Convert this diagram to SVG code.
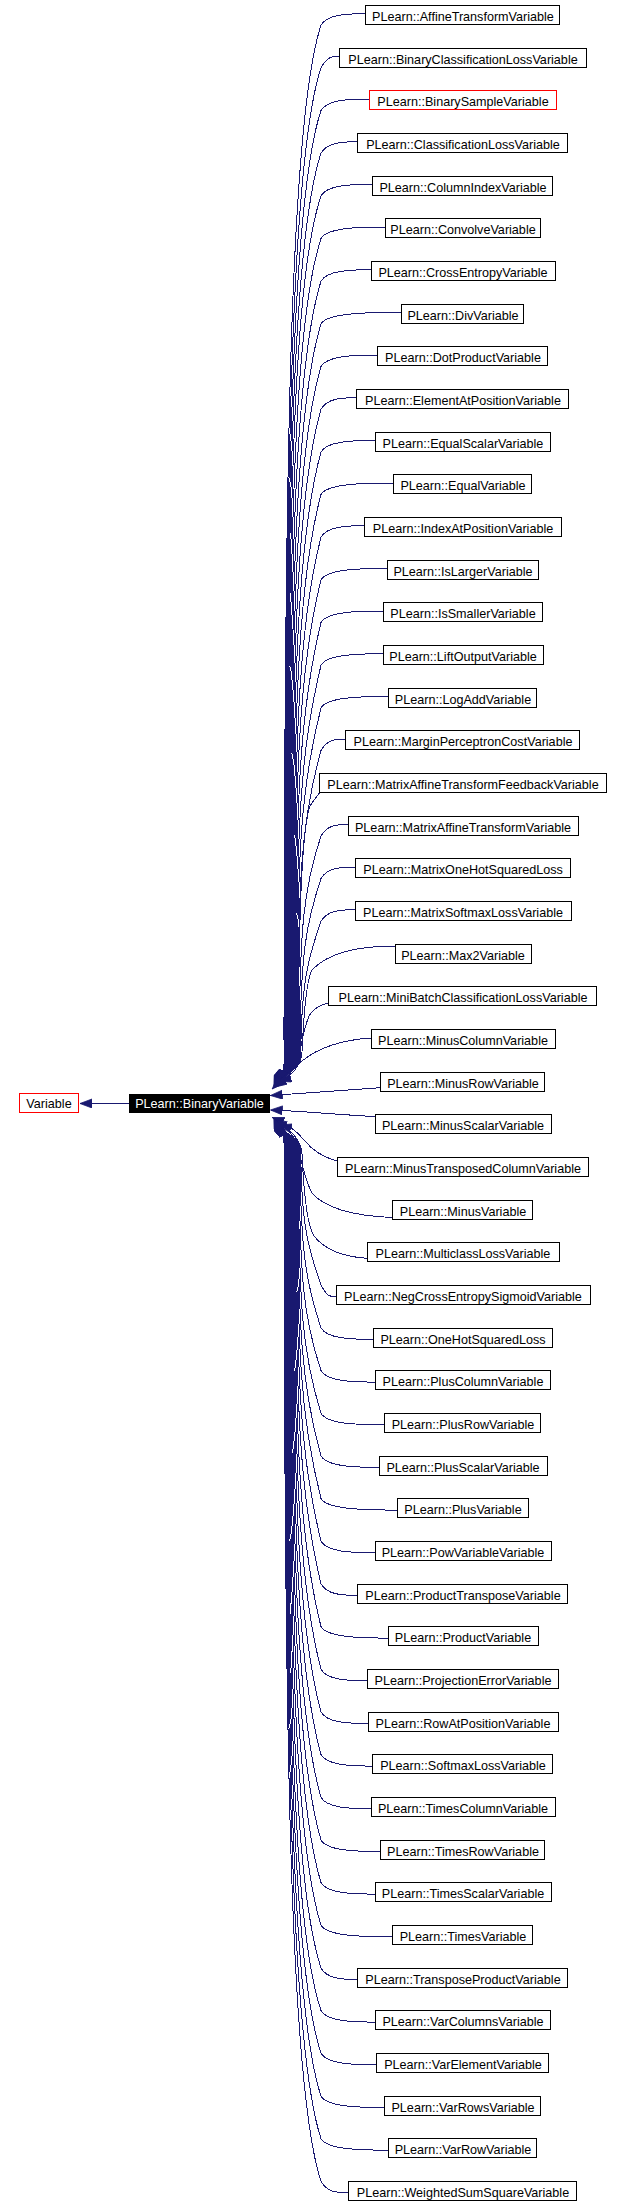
<svg xmlns="http://www.w3.org/2000/svg" width="622" height="2206" viewBox="0 0 622 2206">
<defs>
<marker id="a" markerUnits="userSpaceOnUse" markerWidth="13" markerHeight="10" refX="12" refY="4.5" orient="auto">
<path d="M0,0 L12,4.5 L0,9 z" fill="#191970" stroke="#191970" stroke-width="0.8"/>
</marker>
<style>
.n rect{fill:#fff;stroke:#000;stroke-width:1}
.n.r rect{stroke:#f00}
.p rect{fill:#000;stroke:#000;stroke-width:1}
text{font-family:"Liberation Sans",Arial,Helvetica,sans-serif;font-size:12.6px;text-anchor:middle;fill:#000}
.p text{fill:#fff}
#edges path{fill:none;stroke:#191970;stroke-width:1;marker-end:url(#a);shape-rendering:crispEdges}
</style>
</defs>
<rect width="622" height="2206" fill="#fff"/>
<g id="edges">
<path d="M129,1103.5 L80,1103.5"/>
<path d="M365.3,13.7 C345.4,13.7 327,14.7 321,25.2 C291,115.2 284,440.7 284,1064 C284,1076 278,1078 274,1088"/>
<path d="M339.3,56.3 C331.1,56.3 327,57.3 321,67.8 C291,157.8 284.8,466.2 284.8,1063.7 C284.8,1075.7 278.25,1077.7 274.25,1087.7"/>
<path d="M369,99 C347.4,99 327,100 321,110.5 C291,200.5 285.6,491.7 285.6,1063.4 C285.6,1075.4 278.5,1077.4 274.5,1087.4"/>
<path d="M357.3,141.7 C341,141.7 327,142.7 321,153.2 C291,243.2 286.4,517.2 286.4,1063.1 C286.4,1075.1 278.75,1077.1 274.75,1087.1"/>
<path d="M372,184.3 C349,184.3 327,185.3 321,195.8 C291.2,285.8 287.2,542.6 287.2,1062.8 C287.2,1074.8 279,1076.8 275,1086.8"/>
<path d="M385.3,227 C356.4,227 327,228 321,238.5 C292,328.5 288,568.1 288,1062.5 C288,1074.5 279.25,1076.5 275.25,1086.5"/>
<path d="M371.3,269.7 C348.7,269.7 327,270.7 321,281.2 C292.8,371.2 288.8,593.6 288.8,1062.2 C288.8,1074.2 279.5,1076.2 275.5,1086.2"/>
<path d="M401.3,312.3 C365.2,312.3 327,313.3 321,323.8 C293.6,413.8 289.6,619 289.6,1061.9 C289.6,1073.9 279.75,1075.9 275.75,1085.9"/>
<path d="M377.3,355 C352,355 327,356 321,366.5 C294.4,456.5 290.4,644.5 290.4,1061.6 C290.4,1073.6 280,1075.6 276,1085.6"/>
<path d="M356.3,397.7 C340.4,397.7 327,398.7 321,409.2 C295.2,499.2 291.2,670 291.2,1061.3 C291.2,1073.3 280.25,1075.3 276.25,1085.3"/>
<path d="M375.3,440.4 C350.9,440.4 327,441.4 321,451.9 C296,541.9 292,695.5 292,1061 C292,1073 280.5,1075 276.5,1085"/>
<path d="M393.3,483 C360.8,483 327,484 321,494.5 C296.8,584.5 292.8,721 292.8,1060.7 C292.8,1072.7 280.75,1074.7 276.75,1084.7"/>
<path d="M364,525.7 C344.6,525.7 327,526.7 321,537.2 C297.6,627.2 293.6,746.5 293.6,1060.4 C293.6,1072.4 281,1074.4 277,1084.4"/>
<path d="M387.3,568.4 C357.5,568.4 327,569.4 321,579.9 C298.4,669.9 294.4,772 294.4,1060.1 C294.4,1072.1 281.25,1074.1 277.25,1084.1"/>
<path d="M383.3,611 C355.3,611 327,612 321,622.5 C299.2,712.5 295.2,797.4 295.2,1059.8 C295.2,1071.8 281.5,1073.8 277.5,1083.8"/>
<path d="M383.3,653.7 C355.3,653.7 327,654.7 321,665.2 C300,753.9 296,822.9 296,1059.5 C296,1071.5 281.75,1073.5 277.75,1083.5"/>
<path d="M388.3,696.4 C358,696.4 327,697.4 321,707.9 C300.8,787.1 296.8,848.4 296.8,1059.2 C296.8,1071.2 282,1073.2 278,1083.2"/>
<path d="M345,739 C334.2,739 327,740 321,750.5 C301.6,819.9 297.6,873.9 297.6,1058.9 C297.6,1070.9 282.25,1072.9 278.25,1082.9"/>
<path d="M319.5,793 C316.5,797 313,801 310,806 C303,825 298.4,900 298.4,1058.6 C298.4,1070.6 282.5,1072.6 278.5,1082.6"/>
<path d="M348.3,824.4 C336,824.4 327,825.4 321,835.9 C304.2,886.3 299.2,924.9 299.2,1058.3 C299.2,1070.3 282.75,1072.3 278.75,1082.3"/>
<path d="M355.3,867 C339.9,867 327,868 321,878.5 C307.5,919 300,950.3 300,1058 C300,1070 283,1072 279,1082"/>
<path d="M355.3,909.7 C339.9,909.7 327,910.7 321,921.2 C310.8,951.8 300.8,975.8 300.8,1057.7 C300.8,1069.7 283.25,1071.7 279.25,1081.7"/>
<path d="M395.3,946 C352,946 326,955 312,970 C306,980 303,1030 302,1052 C301,1066 290,1078 279.5,1081.4"/>
<path d="M328.3,1003 C320,1005 313,1009 309,1016 C303,1030 301,1050 297,1062 C293,1072 284,1081 275,1087"/>
<path d="M371.3,1038 C340,1040 318,1048 302,1061 C292,1070 280,1081 272.2,1089"/>
<path d="M380.3,1087.7 L270.5,1095.5"/>
<path d="M375.7,1116.7 C330,1114 300,1111 270.5,1110"/>
<path d="M337.3,1161 C322,1157 312,1150 304,1140 C296,1130 284,1122 272.2,1117.5"/>
<path d="M392.3,1217.5 C355,1216 326,1209 312,1193 C303,1176 301,1156 297,1144 C293,1134 284,1125 275,1119.5"/>
<path d="M367.3,1258.3 C345,1257 325,1250 314,1236 C306,1224 303,1176 302,1154 C301,1140 290,1128 279.5,1125.1"/>
<path d="M336,1296.8 C329.2,1296.8 327,1295.8 321,1285.3 C310.8,1254.7 300.8,1230.7 300.8,1148.8 C300.8,1136.8 283.25,1134.8 279.25,1124.8"/>
<path d="M373.3,1339.4 C349.8,1339.4 327,1338.4 321,1327.9 C307.5,1287.4 300,1256.1 300,1148.5 C300,1136.5 283,1134.5 279,1124.5"/>
<path d="M375.3,1382.1 C350.9,1382.1 327,1381.1 321,1370.6 C304.2,1320.2 299.2,1281.6 299.2,1148.2 C299.2,1136.2 282.75,1134.2 278.75,1124.2"/>
<path d="M384.3,1424.8 C355.8,1424.8 327,1423.8 321,1413.3 C302.4,1353.9 298.4,1307.1 298.4,1147.9 C298.4,1135.9 282.5,1133.9 278.5,1123.9"/>
<path d="M379.3,1467.4 C353.1,1467.4 327,1466.4 321,1455.9 C301.6,1386.6 297.6,1332.6 297.6,1147.6 C297.6,1135.6 282.25,1133.6 278.25,1123.6"/>
<path d="M397.3,1510.1 C363,1510.1 327,1509.1 321,1498.6 C300.8,1419.4 296.8,1358.1 296.8,1147.3 C296.8,1135.3 282,1133.3 278,1123.3"/>
<path d="M375.3,1552.8 C350.9,1552.8 327,1551.8 321,1541.3 C300,1452.6 296,1383.6 296,1147 C296,1135 281.75,1133 277.75,1123"/>
<path d="M357.3,1595.4 C341,1595.4 327,1594.4 321,1583.9 C299.2,1493.9 295.2,1409 295.2,1146.7 C295.2,1134.7 281.5,1132.7 277.5,1122.7"/>
<path d="M388.3,1638.1 C358,1638.1 327,1637.1 321,1626.6 C298.4,1536.6 294.4,1434.5 294.4,1146.4 C294.4,1134.4 281.25,1132.4 277.25,1122.4"/>
<path d="M367.3,1680.8 C346.5,1680.8 327,1679.8 321,1669.3 C297.6,1579.3 293.6,1460 293.6,1146.1 C293.6,1134.1 281,1132.1 277,1122.1"/>
<path d="M368.3,1723.5 C347,1723.5 327,1722.5 321,1712 C296.8,1622 292.8,1485.5 292.8,1145.8 C292.8,1133.8 280.75,1131.8 276.75,1121.8"/>
<path d="M372.3,1766.1 C349.2,1766.1 327,1765.1 321,1754.6 C296,1664.6 292,1511 292,1145.5 C292,1133.5 280.5,1131.5 276.5,1121.5"/>
<path d="M371.3,1808.8 C348.7,1808.8 327,1807.8 321,1797.3 C295.2,1707.3 291.2,1536.5 291.2,1145.2 C291.2,1133.2 280.25,1131.2 276.25,1121.2"/>
<path d="M380.3,1851.5 C353.6,1851.5 327,1850.5 321,1840 C294.4,1750 290.4,1562 290.4,1144.9 C290.4,1132.9 280,1130.9 276,1120.9"/>
<path d="M375.3,1894.1 C350.9,1894.1 327,1893.1 321,1882.6 C293.6,1792.6 289.6,1587.4 289.6,1144.6 C289.6,1132.6 279.75,1130.6 275.75,1120.6"/>
<path d="M392.3,1936.8 C360.2,1936.8 327,1935.8 321,1925.3 C292.8,1835.3 288.8,1612.9 288.8,1144.3 C288.8,1132.3 279.5,1130.3 275.5,1120.3"/>
<path d="M357.3,1979.5 C341,1979.5 327,1978.5 321,1968 C292,1878 288,1638.4 288,1144 C288,1132 279.25,1130 275.25,1120"/>
<path d="M375.3,2022.1 C350.9,2022.1 327,2021.1 321,2010.6 C291.2,1920.6 287.2,1663.8 287.2,1143.7 C287.2,1131.7 279,1129.7 275,1119.7"/>
<path d="M376.3,2064.8 C351.4,2064.8 327,2063.8 321,2053.3 C291,1963.3 286.4,1689.3 286.4,1143.4 C286.4,1131.4 278.75,1129.4 274.75,1119.4"/>
<path d="M384.3,2107.5 C355.8,2107.5 327,2106.5 321,2096 C291,2006 285.6,1714.8 285.6,1143.1 C285.6,1131.1 278.5,1129.1 274.5,1119.1"/>
<path d="M388.3,2150.2 C358,2150.2 327,2149.2 321,2138.7 C291,2048.7 284.8,1740.3 284.8,1142.8 C284.8,1130.8 278.25,1128.8 274.25,1118.8"/>
<path d="M348.3,2192.8 C336,2192.8 327,2191.8 321,2181.3 C291,2091.3 284,1765.8 284,1142.5 C284,1130.5 278,1128.5 274,1118.5"/>
</g>
<g id="variable" class="n r"><rect x="19.5" y="1093.5" width="59" height="19"/><text x="49" y="1108">Variable</text></g>
<g id="binaryvariable" class="p"><rect x="129.5" y="1094.5" width="140" height="18"/><text x="199.5" y="1108.3">PLearn::BinaryVariable</text></g>
<g id="n0" class="n"><rect x="365.5" y="5.5" width="194" height="19"/><text x="463" y="20.5">PLearn::AffineTransformVariable</text></g>
<g id="n1" class="n"><rect x="339.5" y="48.5" width="247" height="19"/><text x="463" y="63.5">PLearn::BinaryClassificationLossVariable</text></g>
<g id="n2" class="n r"><rect x="369.5" y="90.5" width="187" height="19"/><text x="463" y="105.5">PLearn::BinarySampleVariable</text></g>
<g id="n3" class="n"><rect x="357.5" y="133.5" width="210" height="19"/><text x="463" y="148.5">PLearn::ClassificationLossVariable</text></g>
<g id="n4" class="n"><rect x="372.5" y="176.5" width="180" height="19"/><text x="463" y="191.5">PLearn::ColumnIndexVariable</text></g>
<g id="n5" class="n"><rect x="385.5" y="218.5" width="155" height="19"/><text x="463" y="233.5">PLearn::ConvolveVariable</text></g>
<g id="n6" class="n"><rect x="371.5" y="261.5" width="184" height="19"/><text x="463" y="276.5">PLearn::CrossEntropyVariable</text></g>
<g id="n7" class="n"><rect x="401.5" y="304.5" width="122" height="19"/><text x="463" y="319.5">PLearn::DivVariable</text></g>
<g id="n8" class="n"><rect x="377.5" y="346.5" width="170" height="19"/><text x="463" y="361.5">PLearn::DotProductVariable</text></g>
<g id="n9" class="n"><rect x="356.5" y="389.5" width="212" height="19"/><text x="463" y="404.5">PLearn::ElementAtPositionVariable</text></g>
<g id="n10" class="n"><rect x="375.5" y="432.5" width="175" height="19"/><text x="463" y="447.5">PLearn::EqualScalarVariable</text></g>
<g id="n11" class="n"><rect x="393.5" y="474.5" width="138" height="19"/><text x="463" y="489.5">PLearn::EqualVariable</text></g>
<g id="n12" class="n"><rect x="364.5" y="517.5" width="197" height="19"/><text x="463" y="532.5">PLearn::IndexAtPositionVariable</text></g>
<g id="n13" class="n"><rect x="387.5" y="560.5" width="151" height="19"/><text x="463" y="575.5">PLearn::IsLargerVariable</text></g>
<g id="n14" class="n"><rect x="383.5" y="602.5" width="159" height="19"/><text x="463" y="617.5">PLearn::IsSmallerVariable</text></g>
<g id="n15" class="n"><rect x="383.5" y="645.5" width="160" height="19"/><text x="463" y="660.5">PLearn::LiftOutputVariable</text></g>
<g id="n16" class="n"><rect x="388.5" y="688.5" width="148" height="19"/><text x="463" y="703.5">PLearn::LogAddVariable</text></g>
<g id="n17" class="n"><rect x="345.5" y="730.5" width="234" height="19"/><text x="463" y="745.5">PLearn::MarginPerceptronCostVariable</text></g>
<g id="n18" class="n"><rect x="319.5" y="773.5" width="287" height="19"/><text x="463" y="788.5">PLearn::MatrixAffineTransformFeedbackVariable</text></g>
<g id="n19" class="n"><rect x="348.5" y="816.5" width="230" height="19"/><text x="463" y="831.5">PLearn::MatrixAffineTransformVariable</text></g>
<g id="n20" class="n"><rect x="355.5" y="858.5" width="215" height="19"/><text x="463" y="873.5">PLearn::MatrixOneHotSquaredLoss</text></g>
<g id="n21" class="n"><rect x="355.5" y="901.5" width="216" height="19"/><text x="463" y="916.5">PLearn::MatrixSoftmaxLossVariable</text></g>
<g id="n22" class="n"><rect x="395.5" y="944.5" width="136" height="19"/><text x="463" y="959.5">PLearn::Max2Variable</text></g>
<g id="n23" class="n"><rect x="328.5" y="986.5" width="268" height="19"/><text x="463" y="1001.5">PLearn::MiniBatchClassificationLossVariable</text></g>
<g id="n24" class="n"><rect x="371.5" y="1029.5" width="184" height="19"/><text x="463" y="1044.5">PLearn::MinusColumnVariable</text></g>
<g id="n25" class="n"><rect x="380.5" y="1072.5" width="164" height="19"/><text x="463" y="1087.5">PLearn::MinusRowVariable</text></g>
<g id="n26" class="n"><rect x="375.5" y="1114.5" width="176" height="19"/><text x="463" y="1129.5">PLearn::MinusScalarVariable</text></g>
<g id="n27" class="n"><rect x="337.5" y="1157.5" width="251" height="19"/><text x="463" y="1172.5">PLearn::MinusTransposedColumnVariable</text></g>
<g id="n28" class="n"><rect x="392.5" y="1200.5" width="140" height="19"/><text x="463" y="1215.5">PLearn::MinusVariable</text></g>
<g id="n29" class="n"><rect x="367.5" y="1242.5" width="192" height="19"/><text x="463" y="1257.5">PLearn::MulticlassLossVariable</text></g>
<g id="n30" class="n"><rect x="336.5" y="1285.5" width="254" height="19"/><text x="463" y="1300.5">PLearn::NegCrossEntropySigmoidVariable</text></g>
<g id="n31" class="n"><rect x="373.5" y="1328.5" width="179" height="19"/><text x="463" y="1343.5">PLearn::OneHotSquaredLoss</text></g>
<g id="n32" class="n"><rect x="375.5" y="1370.5" width="175" height="19"/><text x="463" y="1385.5">PLearn::PlusColumnVariable</text></g>
<g id="n33" class="n"><rect x="384.5" y="1413.5" width="156" height="19"/><text x="463" y="1428.5">PLearn::PlusRowVariable</text></g>
<g id="n34" class="n"><rect x="379.5" y="1456.5" width="168" height="19"/><text x="463" y="1471.5">PLearn::PlusScalarVariable</text></g>
<g id="n35" class="n"><rect x="397.5" y="1498.5" width="131" height="19"/><text x="463" y="1513.5">PLearn::PlusVariable</text></g>
<g id="n36" class="n"><rect x="375.5" y="1541.5" width="176" height="19"/><text x="463" y="1556.5">PLearn::PowVariableVariable</text></g>
<g id="n37" class="n"><rect x="357.5" y="1584.5" width="210" height="19"/><text x="463" y="1599.5">PLearn::ProductTransposeVariable</text></g>
<g id="n38" class="n"><rect x="388.5" y="1626.5" width="150" height="19"/><text x="463" y="1641.5">PLearn::ProductVariable</text></g>
<g id="n39" class="n"><rect x="367.5" y="1669.5" width="191" height="19"/><text x="463" y="1684.5">PLearn::ProjectionErrorVariable</text></g>
<g id="n40" class="n"><rect x="368.5" y="1712.5" width="190" height="19"/><text x="463" y="1727.5">PLearn::RowAtPositionVariable</text></g>
<g id="n41" class="n"><rect x="372.5" y="1754.5" width="180" height="19"/><text x="463" y="1769.5">PLearn::SoftmaxLossVariable</text></g>
<g id="n42" class="n"><rect x="371.5" y="1797.5" width="184" height="19"/><text x="463" y="1812.5">PLearn::TimesColumnVariable</text></g>
<g id="n43" class="n"><rect x="380.5" y="1840.5" width="164" height="19"/><text x="463" y="1855.5">PLearn::TimesRowVariable</text></g>
<g id="n44" class="n"><rect x="375.5" y="1882.5" width="176" height="19"/><text x="463" y="1897.5">PLearn::TimesScalarVariable</text></g>
<g id="n45" class="n"><rect x="392.5" y="1925.5" width="140" height="19"/><text x="463" y="1940.5">PLearn::TimesVariable</text></g>
<g id="n46" class="n"><rect x="357.5" y="1968.5" width="210" height="19"/><text x="463" y="1983.5">PLearn::TransposeProductVariable</text></g>
<g id="n47" class="n"><rect x="375.5" y="2010.5" width="175" height="19"/><text x="463" y="2025.5">PLearn::VarColumnsVariable</text></g>
<g id="n48" class="n"><rect x="376.5" y="2053.5" width="172" height="19"/><text x="463" y="2068.5">PLearn::VarElementVariable</text></g>
<g id="n49" class="n"><rect x="384.5" y="2096.5" width="156" height="19"/><text x="463" y="2111.5">PLearn::VarRowsVariable</text></g>
<g id="n50" class="n"><rect x="388.5" y="2138.5" width="148" height="19"/><text x="463" y="2153.5">PLearn::VarRowVariable</text></g>
<g id="n51" class="n"><rect x="348.5" y="2181.5" width="228" height="19"/><text x="463" y="2196.5">PLearn::WeightedSumSquareVariable</text></g>
</svg>
